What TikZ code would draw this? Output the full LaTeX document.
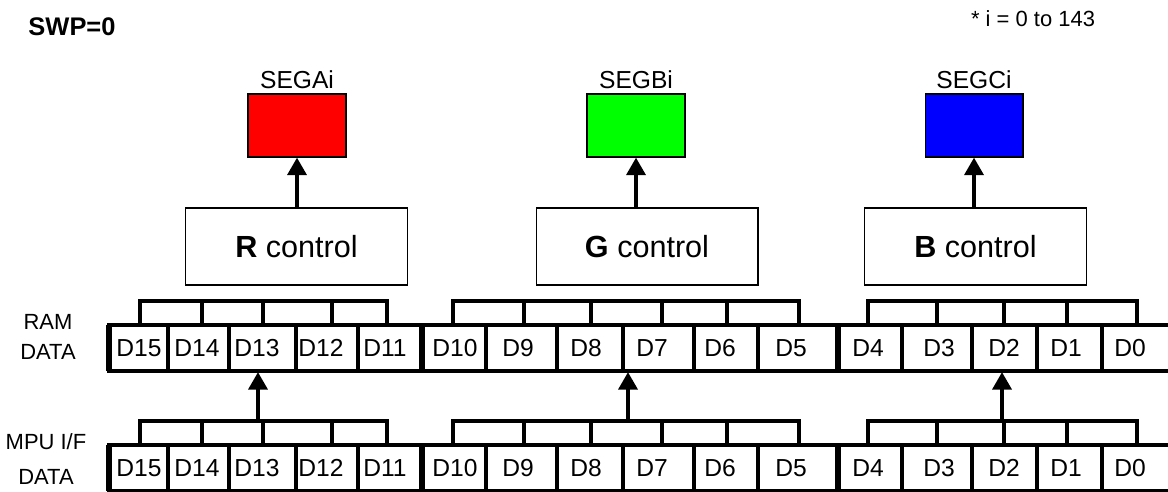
\documentclass[tikz,border=0pt]{standalone}
\usepackage{fontspec}
\setmainfont{Liberation Sans}
\usetikzlibrary{arrows.meta,positioning}

\begin{document}
\begin{tikzpicture}[x=0.02cm,y=-0.02cm,
  segbox/.style={draw,line width=0.6pt,minimum width=1.96cm,minimum height=1.26cm,inner sep=0},
  segname/.style={inner sep=0,font=\fontsize{14}{17}\selectfont},
  ctlbox/.style={draw,line width=0.6pt,minimum width=4.44cm,minimum height=1.54cm,font=\fontsize{17.4}{20}\selectfont},
  cellline/.style={line width=2.2pt},
  tickline/.style={line width=2.2pt,line cap=rect},
  sepline/.style={line width=3.4pt},
  dname/.style={inner sep=0,font=\fontsize{14}{17}\selectfont},
  rowname/.style={align=center,inner sep=0},
  up/.style={-{Triangle[width=10.6pt,length=10pt]},line width=2.8pt}]
\useasboundingbox (0,0) rectangle (1168,492);

\node[font=\fontsize{14.5}{17}\selectfont\bfseries] (swp) at (72,27) {SWP=0};
\node[font=\fontsize{12.5}{15}\selectfont] (range) at (1033,19) {* i = 0 to 143};

% segment outputs
\node[segbox,fill=red] (sega) at (297,125.5) {};
\node[segbox,fill=green] (segb) at (636,125.5) {};
\node[segbox,fill=blue] (segc) at (974,125.5) {};
\node[segname,above=2.3pt of sega] (seganame) {SEGAi};
\node[segname,above=2.3pt of segb] (segbname) {SEGBi};
\node[segname,above=2.3pt of segc] (segcname) {SEGCi};

% control blocks
\node[ctlbox] (rctl) at (296.5,246.5) {\textbf{R} control};
\node[ctlbox] (gctl) at (647,246.5) {\textbf{G} control};
\node[ctlbox] (bctl) at (975.5,246.5) {\textbf{B} control};
\foreach \s/\c in {sega/rctl,segb/gctl,segc/bctl}
  \draw[up] (\s.south |- \c.north) -- (\s.south);

% data rows
\foreach \y/\n in {325/ram,445/mpu} {
  \draw[cellline] (1175,\y) -- (109,\y) -- (109,\y+46) -- (1175,\y+46);
  \draw[sepline] (109,\y) -- (109,\y+46);
  \foreach \x in {168,229,296,358,486,557,623,694,758,902,972,1037,1102}
    \draw[cellline] (\x,\y) -- (\x,\y+46);
  \foreach \x in {422,838}
    \draw[sepline] (\x,\y) -- (\x,\y+46);
  % brackets
  \foreach \a/\b in {140/387,453/799,868/1137}
    \draw[tickline] (\a,\y-24) -- (\b,\y-24);
  \foreach \x in {140,202,263,332,387,453,524,591,662,727,799,868,937,1004,1067,1137}
    \draw[tickline] (\x,\y-24) -- (\x,\y);
  \foreach \c/\t in {139/15,197/14,257/13,321/12,385/11,455/10,518/9,586/8,652/7,720/6,791/5,868/4,939/3,1004/2,1066/1,1130/0}
    \node[dname] (\n\t) at (\c,\y+23) {D\t};
}

\node[rowname,font=\fontsize{12.5}{17}\selectfont] (ramname) at (48,337) {RAM\\DATA};
\node[rowname,font=\fontsize{12.5}{19.8}\selectfont] (mpuname) at (46,459) {MPU I/F\\DATA};

% MPU to RAM
\foreach \x/\g in {258/r,628/g,1002/b} {
  \coordinate (mpu\g) at (\x,420);
  \coordinate (ram\g) at (\x,372);
  \draw[up] (mpu\g) -- (ram\g);
}

\end{tikzpicture}
\end{document}
